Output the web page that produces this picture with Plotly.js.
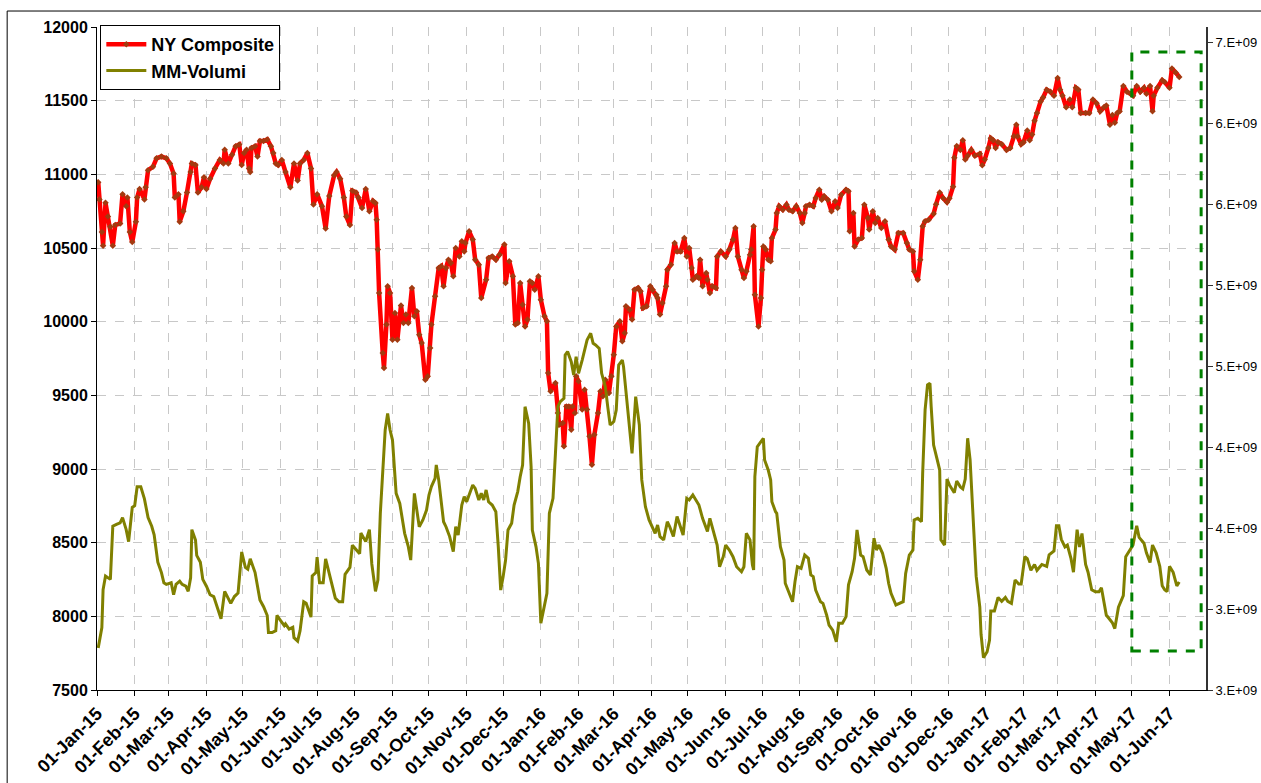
<!DOCTYPE html>
<html>
<head>
<meta charset="utf-8">
<script src="https://cdn.plot.ly/plotly-3.0.1.min.js"></script>
<style>html,body{margin:0;padding:0;background:#fff;}#chart{width:1261px;height:783px;}</style>
</head>
<body>
<div id="chart"></div>
<script>
// ---- DATA ----
const startDate = '2015-01-01';               // day 0 of the day offsets below
const seriesNames = ['NY Composite', 'MM-Volumi'];

// NY Composite: day offset from startDate, index value
const nyDay = [1,2,4,5,7,9,11,13,15,19,21,24,25,27,29,32,33,35,39,40,42,46,49,53,57,60,63,64,67,68,71,74,77,78,81,83,86,88,90,93,97,101,104,105,108,111,114,117,119,121,123,125,126,127,130,132,134,137,140,143,145,147,149,152,155,159,162,165,167,170,173,176,178,181,185,188,191,195,197,200,203,205,208,210,213,215,218,221,224,227,229,230,231,232,235,236,238,239,241,243,245,247,250,252,254,256,259,261,263,265,267,270,272,274,275,278,281,283,285,287,289,291,293,295,298,300,302,303,306,309,311,314,316,320,322,325,328,331,335,336,339,342,344,346,348,350,352,354,356,358,360,363,365,368,370,371,373,377,379,380,383,384,386,388,390,391,393,394,396,399,401,403,405,407,409,412,414,416,418,421,423,425,427,430,432,434,435,438,440,442,445,447,449,452,455,457,460,461,463,465,468,469,472,475,477,480,483,485,487,489,490,493,495,496,498,501,502,504,506,509,510,513,517,520,523,525,527,530,532,534,537,538,540,541,544,546,547,548,550,552,554,555,558,559,561,564,567,569,572,575,578,580,582,583,586,589,591,594,596,598,601,604,607,609,612,616,618,619,622,623,626,629,631,634,635,638,640,642,645,648,651,653,656,659,663,666,668,671,672,675,677,679,681,684,688,690,693,696,699,701,704,705,707,710,712,714,716,719,722,726,728,730,733,735,737,739,741,744,748,751,754,756,757,760,762,765,767,769,771,773,776,778,781,784,787,790,792,794,797,800,802,805,807,809,813,816,819,822,825,828,830,833,835,837,839,841,844,847,850,852,855,858,861,863,866,868,869,872,876,878,882,884,887,890];
const nyClose = [10947,10830,10609,10516,10807,10714,10644,10516,10656,10667,10865,10784,10842,10609,10540,10679,10842,10900,10830,10912,11028,11051,11109,11121,11109,11074,11005,10842,10865,10679,10749,10877,11016,11074,11063,10877,10912,10981,10900,10970,11040,11098,11074,11167,11074,11133,11191,11202,11063,11144,11167,11040,11016,11179,11191,11121,11226,11226,11237,11191,11144,11074,11063,11098,11016,10912,11074,10958,11074,11098,11144,11040,10795,10865,10784,10633,10853,10993,11016,10970,10842,10714,10656,10888,10877,10842,10772,10900,10749,10819,10805,10692,10489,10195,9787,9686,9980,10240,10195,9878,10059,9878,10109,9991,10048,9991,10229,10036,10070,9912,9855,9606,9629,9821,9980,10172,10364,10376,10240,10364,10421,10398,10308,10500,10443,10545,10477,10534,10613,10557,10421,10387,10161,10285,10432,10443,10421,10455,10523,10262,10410,10308,9980,9991,10262,10115,9968,10014,10274,10262,10217,10308,10149,10036,10002,9652,9527,9584,9380,9301,9312,9154,9425,9425,9267,9425,9380,9629,9595,9403,9538,9403,9222,9029,9233,9380,9527,9493,9606,9516,9629,9776,9968,10002,9867,9923,10104,10081,10014,10217,10229,10206,10093,10104,10240,10217,10183,10161,10048,10127,10240,10353,10387,10534,10477,10477,10568,10443,10500,10364,10285,10308,10296,10421,10240,10330,10285,10195,10240,10229,10443,10477,10443,10489,10557,10636,10443,10353,10296,10342,10455,10489,10647,10183,9968,10161,10353,10511,10489,10421,10410,10568,10625,10738,10783,10760,10794,10760,10749,10783,10738,10670,10738,10783,10794,10783,10839,10896,10828,10851,10828,10749,10817,10771,10862,10896,10885,10613,10738,10511,10557,10568,10794,10704,10625,10749,10670,10704,10636,10681,10557,10511,10489,10602,10602,10534,10489,10477,10342,10285,10421,10647,10681,10692,10732,10797,10876,10837,10811,10837,10916,11113,11192,11166,11232,11100,11126,11166,11126,11139,11061,11100,11179,11245,11232,11179,11218,11205,11166,11179,11258,11337,11258,11205,11218,11297,11232,11271,11363,11416,11495,11521,11574,11561,11534,11653,11574,11534,11455,11508,11455,11587,11574,11416,11416,11416,11508,11482,11429,11455,11468,11337,11403,11350,11416,11429,11600,11561,11547,11534,11600,11561,11587,11547,11600,11429,11534,11587,11639,11626,11587,11718,11692,11661];

// MM-Volumi: day offset from startDate, volume in billions
const volDay = [1,4,5,7,11,13,16,19,21,24,26,29,31,33,36,39,42,45,47,50,53,55,57,61,63,65,68,70,73,75,77,78,81,82,85,87,90,93,96,99,102,105,108,110,113,116,119,122,124,126,130,132,134,137,140,141,144,147,148,151,154,155,158,161,162,165,167,170,172,176,177,180,181,183,186,188,191,193,196,199,202,204,208,210,214,216,217,221,224,226,229,231,233,235,237,239,241,243,246,249,251,253,256,258,261,263,265,268,271,273,275,278,279,281,283,285,287,290,293,295,297,300,302,304,306,309,311,314,316,318,320,322,325,328,330,332,334,336,338,341,343,346,348,350,352,355,357,358,361,363,365,368,370,372,375,377,379,381,384,385,387,390,392,394,396,399,401,403,406,408,410,413,415,418,420,422,425,427,429,432,433,436,438,440,443,446,448,451,454,457,459,461,463,466,469,471,474,477,479,482,485,487,490,493,495,498,501,502,504,507,509,510,512,515,517,520,523,526,530,532,534,537,539,540,541,543,545,548,549,552,554,555,558,559,562,565,566,569,572,574,576,579,582,585,587,589,591,595,597,600,602,605,608,610,613,616,618,621,623,625,628,630,633,636,639,641,643,646,649,651,653,657,660,663,665,668,671,672,675,678,679,681,683,685,686,688,691,693,694,697,699,701,705,707,710,712,714,716,718,720,723,726,727,729,732,734,735,738,741,744,747,749,752,755,758,760,763,765,768,771,773,777,781,783,787,789,791,793,796,798,801,803,806,808,810,813,815,818,821,824,826,828,830,835,837,840,844,846,850,852,855,857,861,863,866,868,871,874,876,878,880,882,885,888,890];
const volBillions = [2.86,2.986,3.219,3.304,3.283,3.611,3.622,3.632,3.664,3.590,3.516,3.727,3.738,3.854,3.854,3.780,3.664,3.611,3.558,3.389,3.325,3.262,3.252,3.262,3.188,3.252,3.272,3.252,3.241,3.209,3.293,3.590,3.526,3.431,3.389,3.283,3.241,3.188,3.177,3.114,3.040,3.209,3.167,3.135,3.177,3.198,3.452,3.357,3.346,3.410,3.325,3.252,3.156,3.114,3.060,2.955,2.955,2.966,3.060,3.029,2.997,3.008,2.976,2.987,2.923,2.902,2.966,3.145,3.135,3.050,3.304,3.325,3.420,3.262,3.262,3.410,3.314,3.262,3.167,3.145,3.145,3.314,3.357,3.494,3.462,3.441,3.569,3.516,3.590,3.378,3.209,3.279,3.691,3.978,4.205,4.307,4.205,4.143,3.814,3.752,3.671,3.567,3.485,3.402,3.814,3.711,3.608,3.650,3.711,3.804,3.856,3.907,3.989,3.897,3.773,3.639,3.608,3.547,3.454,3.608,3.557,3.742,3.793,3.762,3.804,3.865,3.845,3.773,3.814,3.773,3.835,3.762,3.742,3.701,3.485,3.217,3.300,3.402,3.588,3.630,3.742,3.825,3.917,3.989,4.349,4.246,3.978,3.588,3.485,3.382,3.012,3.115,3.197,3.691,3.783,4.061,4.349,4.380,4.400,4.668,4.689,4.627,4.545,4.658,4.555,4.637,4.699,4.760,4.802,4.740,4.730,4.709,4.555,4.473,4.349,4.236,4.257,4.329,4.606,4.637,4.596,4.370,4.226,4.061,4.411,4.236,3.897,3.732,3.650,3.598,3.567,3.619,3.547,3.527,3.639,3.608,3.547,3.671,3.630,3.557,3.783,3.773,3.804,3.762,3.742,3.660,3.598,3.578,3.660,3.578,3.506,3.495,3.361,3.423,3.495,3.464,3.423,3.361,3.330,3.361,3.567,3.527,3.371,3.341,3.917,4.102,4.123,4.154,4.020,3.958,3.897,3.762,3.701,3.691,3.485,3.402,3.259,3.197,3.145,3.269,3.361,3.351,3.433,3.413,3.310,3.300,3.217,3.145,3.135,3.063,3.001,2.970,2.898,3.012,3.012,3.053,3.249,3.330,3.413,3.588,3.433,3.423,3.341,3.310,3.537,3.464,3.495,3.444,3.351,3.259,3.197,3.125,3.135,3.145,3.320,3.433,3.464,3.650,3.660,3.639,3.938,4.329,4.483,4.493,4.349,4.112,4.020,3.958,3.527,3.495,3.902,3.866,3.818,3.890,3.854,3.842,3.902,4.154,4.022,3.734,3.303,3.111,2.944,2.800,2.836,2.908,3.088,3.088,3.171,3.147,3.171,3.147,3.135,3.279,3.255,3.255,3.423,3.411,3.339,3.375,3.339,3.375,3.363,3.435,3.459,3.614,3.614,3.530,3.483,3.495,3.411,3.327,3.590,3.483,3.566,3.375,3.327,3.219,3.207,3.207,3.231,3.147,3.063,3.015,2.979,3.111,3.183,3.423,3.471,3.495,3.614,3.542,3.506,3.447,3.387,3.495,3.447,3.363,3.243,3.219,3.207,3.363,3.327,3.243,3.267];

// Axis ticks
const monthTicks = ['2015-01-01','2015-02-01','2015-03-01','2015-04-01','2015-05-01','2015-06-01','2015-07-01','2015-08-01','2015-09-01','2015-10-01','2015-11-01','2015-12-01','2016-01-01','2016-02-01','2016-03-01','2016-04-01','2016-05-01','2016-06-01','2016-07-01','2016-08-01','2016-09-01','2016-10-01','2016-11-01','2016-12-01','2017-01-01','2017-02-01','2017-03-01','2017-04-01','2017-05-01','2017-06-01'];
const monthLabels = ['01-Jan-15','01-Feb-15','01-Mar-15','01-Apr-15','01-May-15','01-Jun-15','01-Jul-15','01-Aug-15','01-Sep-15','01-Oct-15','01-Nov-15','01-Dec-15','01-Jan-16','01-Feb-16','01-Mar-16','01-Apr-16','01-May-16','01-Jun-16','01-Jul-16','01-Aug-16','01-Sep-16','01-Oct-16','01-Nov-16','01-Dec-16','01-Jan-17','01-Feb-17','01-Mar-17','01-Apr-17','01-May-17','01-Jun-17'];
const leftTicks = [7500,8000,8500,9000,9500,10000,10500,11000,11500,12000];
const leftTickText = ['7500','8000','8500','9000','9500','10000','10500','11000','11500','12000'];
const rightTickVals = [2.6e9,3.1e9,3.6e9,4.1e9,4.6e9,5.1e9,5.6e9,6.1e9,6.6e9];
const rightTickText = ['3.E+09','3.E+09','4.E+09','4.E+09','5.E+09','5.E+09','6.E+09','6.E+09','7.E+09'];

// Highlight box (green dashed) around the last period
const boxStart = '2017-05-01', boxEnd = '2017-06-27', boxLow = 7765, boxHigh = 11830;

// ---- BUILD ----
const t0 = Date.UTC(2015, 0, 1);
const toDate = d => new Date(t0 + d * 86400000).toISOString().slice(0, 10);
const font = 'Liberation Sans, Arial, sans-serif';

const nyTrace = {
  x: nyDay.map(toDate), y: nyClose, name: seriesNames[0], type: 'scatter', mode: 'lines+markers',
  line: {color: '#ff0000', width: 4.5},
  marker: {symbol: 'diamond', size: 5, color: '#a33a10', line: {width: 0}},
  yaxis: 'y', legendrank: 1
};
const volTrace = {
  x: volDay.map(toDate), y: volBillions.map(v => v * 1e9), name: seriesNames[1], type: 'scatter', mode: 'lines',
  line: {color: '#808000', width: 3},
  yaxis: 'y2', legendrank: 2
};

const layout = {
  width: 1261, height: 783,
  margin: {l: 97, r: 55, t: 27, b: 93, pad: 0},
  paper_bgcolor: '#ffffff', plot_bgcolor: '#ffffff',
  font: {family: font, color: '#000'},
  showlegend: true,
  legend: {
    x: 0.003, y: 1.003, xanchor: 'left', yanchor: 'top',
    bgcolor: '#ffffff', bordercolor: '#000', borderwidth: 1,
    font: {family: font, size: 18, weight: 'bold', color: '#000'},
    itemwidth: 40, tracegroupgap: 4
  },
  xaxis: {
    type: 'date', range: ['2015-01-01', '2017-07-01'],
    tickmode: 'array', tickvals: monthTicks, ticktext: monthLabels,
    tickangle: -45, tickfont: {family: font, size: 18, weight: 'bold', color: '#000'},
    ticks: 'outside', ticklen: 5, tickcolor: '#000',
    showline: true, linecolor: '#000', linewidth: 1,
    showgrid: true, gridcolor: '#c8c8c8', griddash: 'dash', gridwidth: 1,
    zeroline: false, fixedrange: true, automargin: false
  },
  yaxis: {
    range: [7500, 12000], tickmode: 'array', tickvals: leftTicks, ticktext: leftTickText,
    tickfont: {family: font, size: 16, weight: 'bold', color: '#000'},
    ticks: 'outside', ticklen: 5, tickcolor: '#000',
    showline: true, linecolor: '#000', linewidth: 1,
    showgrid: true, gridcolor: '#c8c8c8', griddash: 'dash', gridwidth: 1,
    zeroline: false, fixedrange: true, automargin: false
  },
  yaxis2: {
    overlaying: 'y', side: 'right', range: [2.6e9, 6.693e9],
    tickmode: 'array', tickvals: rightTickVals, ticktext: rightTickText,
    tickfont: {family: font, size: 13, color: '#000'},
    ticks: 'outside', ticklen: 5, tickcolor: '#333',
    showline: true, linecolor: '#333', linewidth: 2,
    showgrid: false, zeroline: false, fixedrange: true, automargin: false
  },
  shapes: [
    {type: 'rect', xref: 'x', yref: 'y', x0: boxStart, x1: boxEnd, y0: boxLow, y1: boxHigh,
     line: {color: '#008000', width: 3, dash: 'dash'}, fillcolor: 'rgba(0,0,0,0)'},
    {type: 'rect', xref: 'paper', yref: 'paper', x0: -0.081, x1: 1.06, y0: -0.17, y1: 1.0241,
     line: {color: '#000', width: 1}, fillcolor: 'rgba(0,0,0,0)', layer: 'below'}
  ]
};

Plotly.newPlot('chart', [volTrace, nyTrace], layout, {displayModeBar: false, staticPlot: true});
</script>
</body>
</html>
